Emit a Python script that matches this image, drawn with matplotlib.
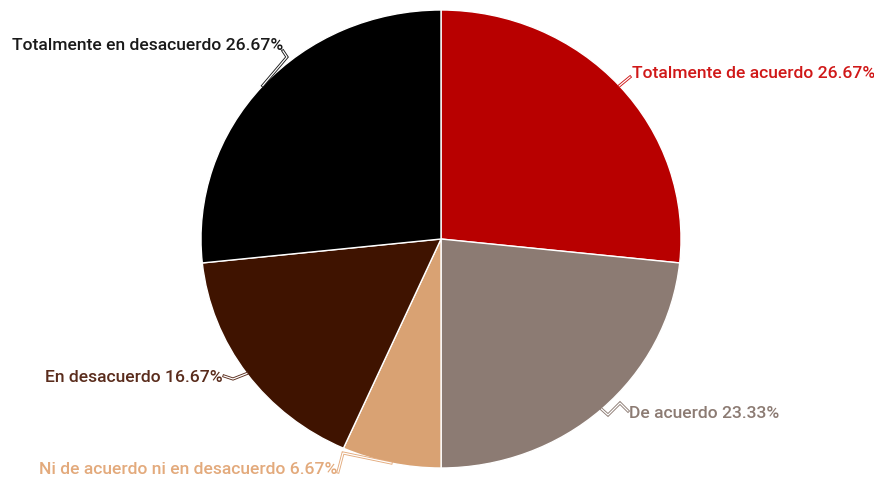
import matplotlib.pyplot as plt
import matplotlib.patheffects as pe
import numpy as np

# Respuestas de la encuesta, en orden horario desde arriba
categories = ["Totalmente de acuerdo", "De acuerdo",
              "Ni de acuerdo ni en desacuerdo", "En desacuerdo",
              "Totalmente en desacuerdo"]
values = [26.67, 23.33, 6.67, 16.67, 26.67]
colors = ["#b80000", "#8c7b73", "#d9a273", "#3f1300", "#000000"]
label_colors = ["#d01818", "#8c7b73", "#e3aa7c", "#5a2c1c", "#1a1a1a"]

W, H = 874, 480
cx, cy = 441, 239          # pie centre in pixels
rx, ry = 240, 229          # pie half-width / half-height in pixels

# label anchor (pixels), alignment, and connector elbow points
label_pos = [(632, 73, "left"), (629, 414, "left"), (337, 470, "right"),
             (223, 377, "right"), (283, 45, "right")]
elbows = [[(630, 77)],
          [(608, 415), (620, 403), (628, 411)],
          [(343, 453), (338, 472)],
          [(233, 379), (224, 376)],
          [(287, 57), (283, 51)]]

fig = plt.figure(figsize=(W / 100, H / 100), dpi=100)

ax_pie = fig.add_axes([(cx - rx) / W, 1 - (cy + ry) / H, 2 * rx / W, 2 * ry / H])
ax_pie.pie(values, colors=colors, startangle=90, counterclock=False,
           radius=1, wedgeprops=dict(edgecolor="white", linewidth=1))
ax_pie.set_aspect("auto")
ax_pie.set_xlim(-1, 1)
ax_pie.set_ylim(-1, 1)
ax_pie.axis("off")

# overlay in pixel coordinates for labels and connectors
ax = fig.add_axes([0, 0, 1, 1])
ax.set_xlim(0, W)
ax.set_ylim(H, 0)
ax.axis("off")

cum = np.cumsum([0] + values[:-1])
for i, (name, v) in enumerate(zip(categories, values)):
    mid = np.deg2rad(90 - (cum[i] + v / 2) * 3.6)
    ex, ey = cx + rx * np.cos(mid), cy - ry * np.sin(mid)
    pts = [(ex, ey)] + elbows[i]
    xs, ys = zip(*pts)
    ax.plot(xs, ys, color="white", lw=0.9, solid_joinstyle="miter",
            path_effects=[pe.Stroke(linewidth=2.2, foreground=label_colors[i]),
                          pe.Normal()])
    lx, ly, ha = label_pos[i]
    ax.text(lx, ly, f"{name} {v:.2f}%", color=label_colors[i], ha=ha,
            va="center", fontsize=12.6, family="Roboto", fontweight="medium")

fig.savefig("out.png", dpi=100, facecolor="white")
